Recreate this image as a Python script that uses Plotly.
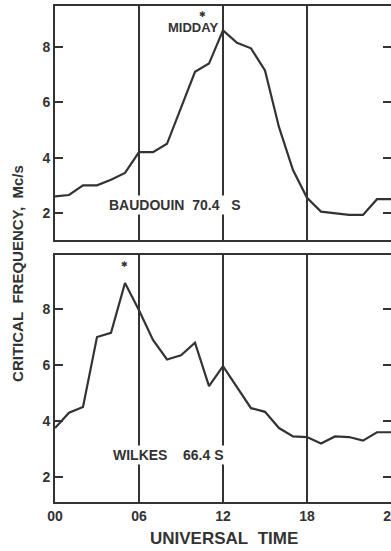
import plotly.graph_objects as go

hours = list(range(0, 25))
baudouin = [2.6, 2.65, 3.0, 3.0, 3.2, 3.45, 4.2, 4.2, 4.5, 5.8, 7.1, 7.4, 8.6,
            8.15, 7.95, 7.15, 5.1, 3.55, 2.55, 2.05, 2.0, 1.93, 1.93, 2.5, 2.5]
wilkes = [3.75, 4.3, 4.5, 7.0, 7.15, 8.93, 7.96, 6.9, 6.2, 6.35, 6.8, 5.25, 5.96,
          5.2, 4.46, 4.33, 3.75, 3.45, 3.43, 3.2, 3.45, 3.43, 3.3, 3.6, 3.6]
x_tickvals = [0, 6, 12, 18, 24]
x_ticktext = ["00", "06", "12", "18", "24"]
y_tickvals = [2, 4, 6, 8]

INK = "#333333"
FONT = "Liberation Sans"

fig = go.Figure()
fig.add_trace(go.Scatter(x=hours, y=baudouin, mode="lines", xaxis="x", yaxis="y",
                         line=dict(color=INK, width=2.2), showlegend=False))
fig.add_trace(go.Scatter(x=hours, y=wilkes, mode="lines", xaxis="x2", yaxis="y2",
                         line=dict(color=INK, width=2.2), showlegend=False))

xcommon = dict(range=[0, 24], showline=True, linecolor=INK, linewidth=2, mirror=True,
               showgrid=True, gridcolor=INK, gridwidth=1.5, tickvals=x_tickvals,
               zeroline=False, ticks="", automargin=False)
ycommon = dict(showline=True, linecolor=INK, linewidth=2, mirror="ticks",
               showgrid=False, zeroline=False, tickvals=y_tickvals, ticks="inside",
               ticklen=8, tickwidth=1.5, tickcolor=INK, automargin=False,
               tickfont=dict(family=FONT, size=14, color=INK, weight="bold"))

fig.update_layout(
    width=391, height=551,
    margin=dict(l=55, r=0, t=6, b=49),
    paper_bgcolor="white", plot_bgcolor="white",
    xaxis=dict(**xcommon, anchor="y", showticklabels=False),
    yaxis=dict(**ycommon, domain=[0.528, 1.0], range=[1.02, 9.48], anchor="x"),
    xaxis2=dict(**xcommon, anchor="y2", showticklabels=True, ticktext=x_ticktext,
                ticklabeloverflow="allow",
                tickfont=dict(family=FONT, size=14, color=INK, weight="bold")),
    yaxis2=dict(**ycommon, domain=[0.0, 0.498], range=[1.11, 9.93], anchor="x2"),
)

ann_font = dict(family=FONT, size=14, color=INK, weight="bold")
fig.add_annotation(x=9.86, y=8.72, xref="x", yref="y", text="MIDDAY",
                   showarrow=False, font=dict(family=FONT, size=13, color=INK, weight="bold"))
fig.add_annotation(x=10.57, y=9.19, xref="x", yref="y", text="✱",
                   showarrow=False, font=dict(family="DejaVu Sans", size=8, color=INK))
fig.add_annotation(x=4.93, y=9.6, xref="x2", yref="y2", text="✱",
                   showarrow=False, font=dict(family="DejaVu Sans", size=8, color=INK))
fig.add_annotation(x=8.5, y=2.29, xref="x", yref="y",
                   text="BAUDOUIN\u00a0\u00a070.4\u00a0\u00a0\u00a0S",
                   showarrow=False, bgcolor="white", borderpad=1, font=ann_font)
fig.add_annotation(x=8.07, y=2.79, xref="x2", yref="y2",
                   text="WILKES\u00a0\u00a0\u00a0\u00a066.4\u00a0S",
                   showarrow=False, bgcolor="white", borderpad=1, font=ann_font)
fig.add_annotation(x=-0.110, y=0.46, xref="paper", yref="paper",
                   xanchor="center", yanchor="middle",
                   text="CRITICAL\u00a0\u00a0FREQUENCY,\u00a0\u00a0Mc/s", textangle=-90,
                   showarrow=False, font=dict(family=FONT, size=15, color=INK, weight="bold"))
fig.add_annotation(x=0.503, y=-0.0726, xref="paper", yref="paper",
                   xanchor="center", yanchor="middle",
                   text="UNIVERSAL\u00a0\u00a0TIME", showarrow=False,
                   font=dict(family=FONT, size=17, color=INK, weight="bold"))

fig.write_html("out.html")
